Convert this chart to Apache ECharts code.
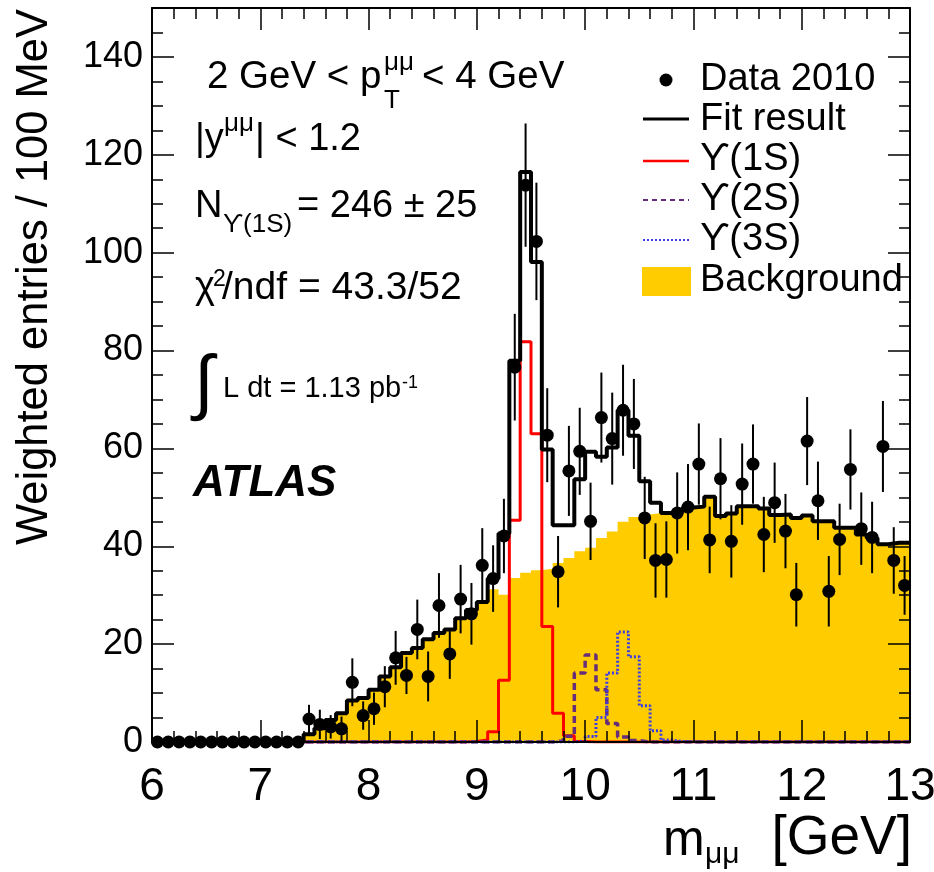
<!DOCTYPE html>
<html><head><meta charset="utf-8">
<script src="https://cdn.jsdelivr.net/npm/echarts@6/dist/echarts.min.js"></script>
<style>html,body{margin:0;padding:0;background:#fff}#c{width:934px;height:872px}</style>
</head><body><div id="c"></div>
<script>
// ---- data ----
const massBins = [6.05,6.15,6.25,6.35,6.45,6.55,6.65,6.75,6.85,6.95,
  7.05,7.15,7.25,7.35,7.45,7.55,7.65,7.75,7.85,7.95,
  8.05,8.15,8.25,8.35,8.45,8.55,8.65,8.75,8.85,8.95,
  9.05,9.15,9.25,9.35,9.45,9.55,9.65,9.75,9.85,9.95,
  10.05,10.15,10.25,10.35,10.45,10.55,10.65,10.75,10.85,10.95,
  11.05,11.15,11.25,11.35,11.45,11.55,11.65,11.75,11.85,11.95,
  12.05,12.15,12.25,12.35,12.45,12.55,12.65,12.75,12.85,12.95];
const binHalfWidth = 0.05;

const dataValues = [0,0,0,0,0,0,0,0,0,0,
  0,0,0,0,4.7,3.6,3.1,2.7,12.2,5.4,
  6.8,11.3,17.2,13.6,23.0,13.4,27.9,18.0,29.2,26.2,
  36.1,33.4,42.1,76.6,113.8,102.3,62.7,34.8,55.4,59.4,
  45.1,66.3,62.0,67.8,65.0,45.8,37.1,37.3,46.8,48.0,
  56.8,41.3,53.8,41.0,52.7,56.8,42.4,48.9,43.1,30.1,
  61.5,49.3,30.8,41.4,55.7,43.6,41.8,60.4,37.1,32.0];
const dataErrors = [0,0,0,0,0,0,0,0,0,0,
  0,0,0,0,2.9,3.0,2.4,2.5,4.9,2.9,
  3.3,4.2,5.5,3.8,6.1,5.1,6.6,5.1,7.0,6.3,
  7.6,6.8,7.6,10.9,12.6,12.0,9.6,7.3,9.2,8.9,
  7.9,9.2,9.4,9.3,9.2,8.4,7.6,7.8,8.3,8.8,
  8.3,6.8,8.3,7.4,8.3,8.1,7.7,8.2,7.6,6.5,
  9.0,8.0,7.2,7.3,8.2,7.4,7.3,9.3,6.8,6.0];
const fitResult = [0,0,0,0,0,0,0,0,0,0,
  0,0,0,0,1.6,2.8,4.5,5.9,8.5,9.0,
  10.7,13.4,15.3,18.2,19.2,21.0,22.3,23.0,25.3,27.0,
  28.6,33.4,42.6,77.9,116.5,98.1,59.8,44.3,44.3,53.7,
  59.3,58.3,60.2,67.8,62.6,53.3,48.9,46.8,47.0,47.9,
  48.1,50.1,46.2,46.7,48.2,48.2,47.7,46.4,46.5,45.8,
  46.3,45.1,45.1,43.8,43.8,42.4,41.7,40.4,40.7,40.7];
const upsilon1S = [0,0,0,0,0,0,0,0,0,0,
  0,0,0,0,0,0,0,0,0,0,
  0,0,0,0,0,0,0,0,0,0.1,
  0.4,2.1,12.6,45.3,81.8,63.0,23.6,5.9,1.3,0.1,
  0,0,0,0,0,0,0,0,0,0,
  0,0,0,0,0,0,0,0,0,0,
  0,0,0,0,0,0,0,0,0,0];
const upsilon2S = [0,0,0,0,0,0,0,0,0,0,
  0,0,0,0,0,0,0,0,0,0,
  0,0,0,0,0,0,0,0,0,0,
  0,0,0,0,0,0,0,0.3,1.2,14.1,
  17.8,10.7,3.8,1.0,0.3,0,0,0,0,0,
  0,0,0,0,0,0,0,0,0,0,
  0,0,0,0,0,0,0,0,0,0];
const upsilon3S = [0,0,0,0,0,0,0,0,0,0,
  0,0,0,0,0,0,0,0,0,0,
  0,0,0,0,0,0,0,0,0,0,
  0,0,0,0,0,0,0,0,0,0.2,
  1.1,5.0,14.1,22.5,17.4,7.4,2.3,0.4,0.1,0,
  0,0,0,0,0,0,0,0,0,0,
  0,0,0,0,0,0,0,0,0,0];
const background = [0,0,0,0,0,0,0,0,0,0,
  0,0,0,0,1.5,2.8,4.5,5.9,8.5,9.0,
  10.7,13.4,15.3,18.2,19.2,21.0,22.3,23.0,25.3,27.0,
  28.2,31.2,30.1,33.5,34.6,35.1,35.4,36.6,37.6,39.0,
  39.7,41.7,43.0,45.0,46.0,46.5,46.8,46.6,47.0,47.9,
  48.1,50.1,46.2,46.7,48.2,48.2,47.7,46.4,46.5,45.8,
  46.3,45.1,45.1,43.8,43.8,42.4,41.7,40.4,40.7,40.7];

const xTickLabels = ['6','7','8','9','10','11','12','13'];
const xTickValues = [6,7,8,9,10,11,12,13];
const yTickLabels = ['0','20','40','60','80','100','120','140'];
const yTickValues = [0,20,40,60,80,100,120,140];

const legendLabels = ['Data 2010','Fit result','\u03d2(1S)','\u03d2(2S)','\u03d2(3S)','Background'];

// ---- helpers ----
const F = '"Liberation Sans", Arial, Helvetica, sans-serif';
function steps(vals){
  const pts=[];
  for(let i=0;i<massBins.length;i++){
    pts.push([massBins[i]-binHalfWidth, vals[i]], [massBins[i]+binHalfWidth, vals[i]]);
  }
  return pts;
}
function lookup(vals, labels, v){
  for(let i=0;i<vals.length;i++){ if(Math.abs(vals[i]-v)<1e-6) return labels[i]; }
  return '';
}

const chart = echarts.init(document.getElementById('c'), null, {renderer:'canvas'});

const tickLine = {color:'#000', width:1.5};
function xAx(pos, labels){
  return {type:'value', min:6, max:13, interval:1, position:pos, z:10,
    axisLine:{show:true, onZero:false, lineStyle:{color:'#000', width:2}},
    axisTick:{show:true, inside:true, length:22, lineStyle:tickLine},
    minorTick:{show:true, splitNumber:5, length:11, lineStyle:tickLine},
    splitLine:{show:false}, minorSplitLine:{show:false},
    axisLabel:{show:labels, color:'#000', fontSize:46, fontFamily:F, margin:22,
      formatter:(v)=>lookup(xTickValues, xTickLabels, v)}
  };
}
function yAx(pos, interval, len, labels, line){
  return {type:'value', min:0, max:150, interval:interval, position:pos, z:10,
    axisLine:{show:line, onZero:false, lineStyle:{color:'#000', width:2}},
    axisTick:{show:true, inside:true, length:len, lineStyle:tickLine},
    splitLine:{show:false},
    axisLabel:{show:labels, color:'#000', fontSize:36, fontFamily:F, margin:9, showMaxLabel:false,
      formatter:(v)=>lookup(yTickValues, yTickLabels, v)}
  };
}

function txt(x, y, s, size, extra){
  return {type:'text', x:x, y:y, z:50,
    style:Object.assign({text:s, fontSize:size, fontFamily:F, fill:'#000', align:'left', verticalAlign:'middle'}, extra||{})};
}

const graphics = [
  // y axis title
  {type:'text', x:35, y:9, rotation:Math.PI/2, z:50,
    style:{text:'Weighted entries / 100 MeV', fontSize:43.5, fontFamily:F, fill:'#000', align:'right', verticalAlign:'middle'}},
  // x axis title
  txt(912, 839, '[GeV]', 55, {align:'right'}),
  txt(663, 841, 'm', 50),
  txt(705, 855, '\u03bc\u03bc', 30),
  // annotations
  txt(207, 77, '2 GeV < p', 38.5),
  txt(384, 63, '\u03bc\u03bc', 26),
  txt(384, 101, 'T', 26),
  txt(422, 77, '< 4 GeV', 38.5),
  txt(195, 140, '|y', 38),
  txt(224, 124, '\u03bc\u03bc', 26),
  txt(255, 140, '| < 1.2', 38),
  txt(195, 207, 'N', 38),
  txt(223, 225, '\u03d2(1S)', 26),
  txt(297, 207, '= 246 \u00b1 25', 38),
  txt(195, 288, '\u03c7', 38),
  txt(213, 280, '2', 23),
  txt(222, 288, '/ndf = 43.3/52', 39),
  txt(194, 386, '\u222b', 72),
  txt(223, 389, 'L dt = 1.13 pb', 29),
  txt(402, 383, '-1', 18),
  txt(193, 484, 'ATLAS', 44, {fontWeight:'bold', fontStyle:'italic'}),
  // legend
  {type:'circle', z:50, shape:{cx:666, cy:80, r:6.5}, style:{fill:'#000'}},
  {type:'line', z:50, shape:{x1:643, y1:119, x2:689, y2:119}, style:{stroke:'#000', lineWidth:3}},
  {type:'line', z:50, shape:{x1:643, y1:161, x2:689, y2:161}, style:{stroke:'#ff0000', lineWidth:2.5}},
  {type:'line', z:50, shape:{x1:643, y1:200, x2:689, y2:200}, style:{stroke:'#662d7a', lineWidth:2, lineDash:[5,4]}},
  {type:'line', z:50, shape:{x1:643, y1:240, x2:689, y2:240}, style:{stroke:'#3c3ce6', lineWidth:2, lineDash:[2,2]}},
  {type:'rect', z:50, shape:{x:642, y:267, width:49, height:29}, style:{fill:'#ffcc00'}},
  txt(700, 80, legendLabels[0], 38),
  txt(700, 120, legendLabels[1], 38),
  txt(700, 160, legendLabels[2], 38),
  txt(700, 200, legendLabels[3], 38),
  txt(700, 240, legendLabels[4], 38),
  txt(700, 281, legendLabels[5], 38)
];

const option = {
  animation:false,
  backgroundColor:'#fff',
  grid:{left:152, right:24, top:8, bottom:130, show:false, containLabel:false, outerBoundsMode:'none'},
  xAxis:[xAx('bottom', true), xAx('top', false)],
  yAxis:[
    yAx('left', 20, 22, true, true),
    yAx('left', 5, 11, false, false),
    yAx('right', 20, 22, false, true),
    yAx('right', 5, 11, false, false)
  ],
  series:[
    {name:'Background', type:'line', data:steps(background), showSymbol:false, symbol:'none', z:1,
      lineStyle:{width:0, opacity:0}, areaStyle:{color:'#ffcc00', opacity:1}},
    {name:'Y1S', type:'line', data:steps(upsilon1S), showSymbol:false, symbol:'none', z:2,
      lineStyle:{color:'#ff0000', width:3}},
    {name:'Y2S', type:'line', data:steps(upsilon2S), showSymbol:false, symbol:'none', z:2,
      lineStyle:{color:'#662d7a', width:3.5, type:[7,4]}},
    {name:'Y3S', type:'line', data:steps(upsilon3S), showSymbol:false, symbol:'none', z:2,
      lineStyle:{color:'#3c3ce6', width:3, type:[2,2]}},
    {name:'Fit', type:'line', data:steps(fitResult), showSymbol:false, symbol:'none', z:3,
      lineStyle:{color:'#000', width:4}},
    {name:'Errors', type:'custom', z:4, clip:false,
      data:massBins.map((m,i)=>[m, dataValues[i], dataErrors[i]]),
      encode:{x:0, y:1},
      renderItem:function(params, api){
        const x=api.value(0), y=api.value(1), e=api.value(2);
        if(!e) return null;
        const p1=api.coord([x, y-e]), p2=api.coord([x, y+e]);
        return {type:'line', shape:{x1:p1[0], y1:p1[1], x2:p2[0], y2:p2[1]}, style:{stroke:'#000', lineWidth:2}};
      }},
    {name:'Data 2010', type:'scatter', z:5, clip:false, symbol:'circle', symbolSize:13,
      itemStyle:{color:'#000', opacity:1},
      data:massBins.map((m,i)=>[m, dataValues[i]])}
  ],
  graphic:graphics
};
chart.setOption(option);
</script>
</body></html>
